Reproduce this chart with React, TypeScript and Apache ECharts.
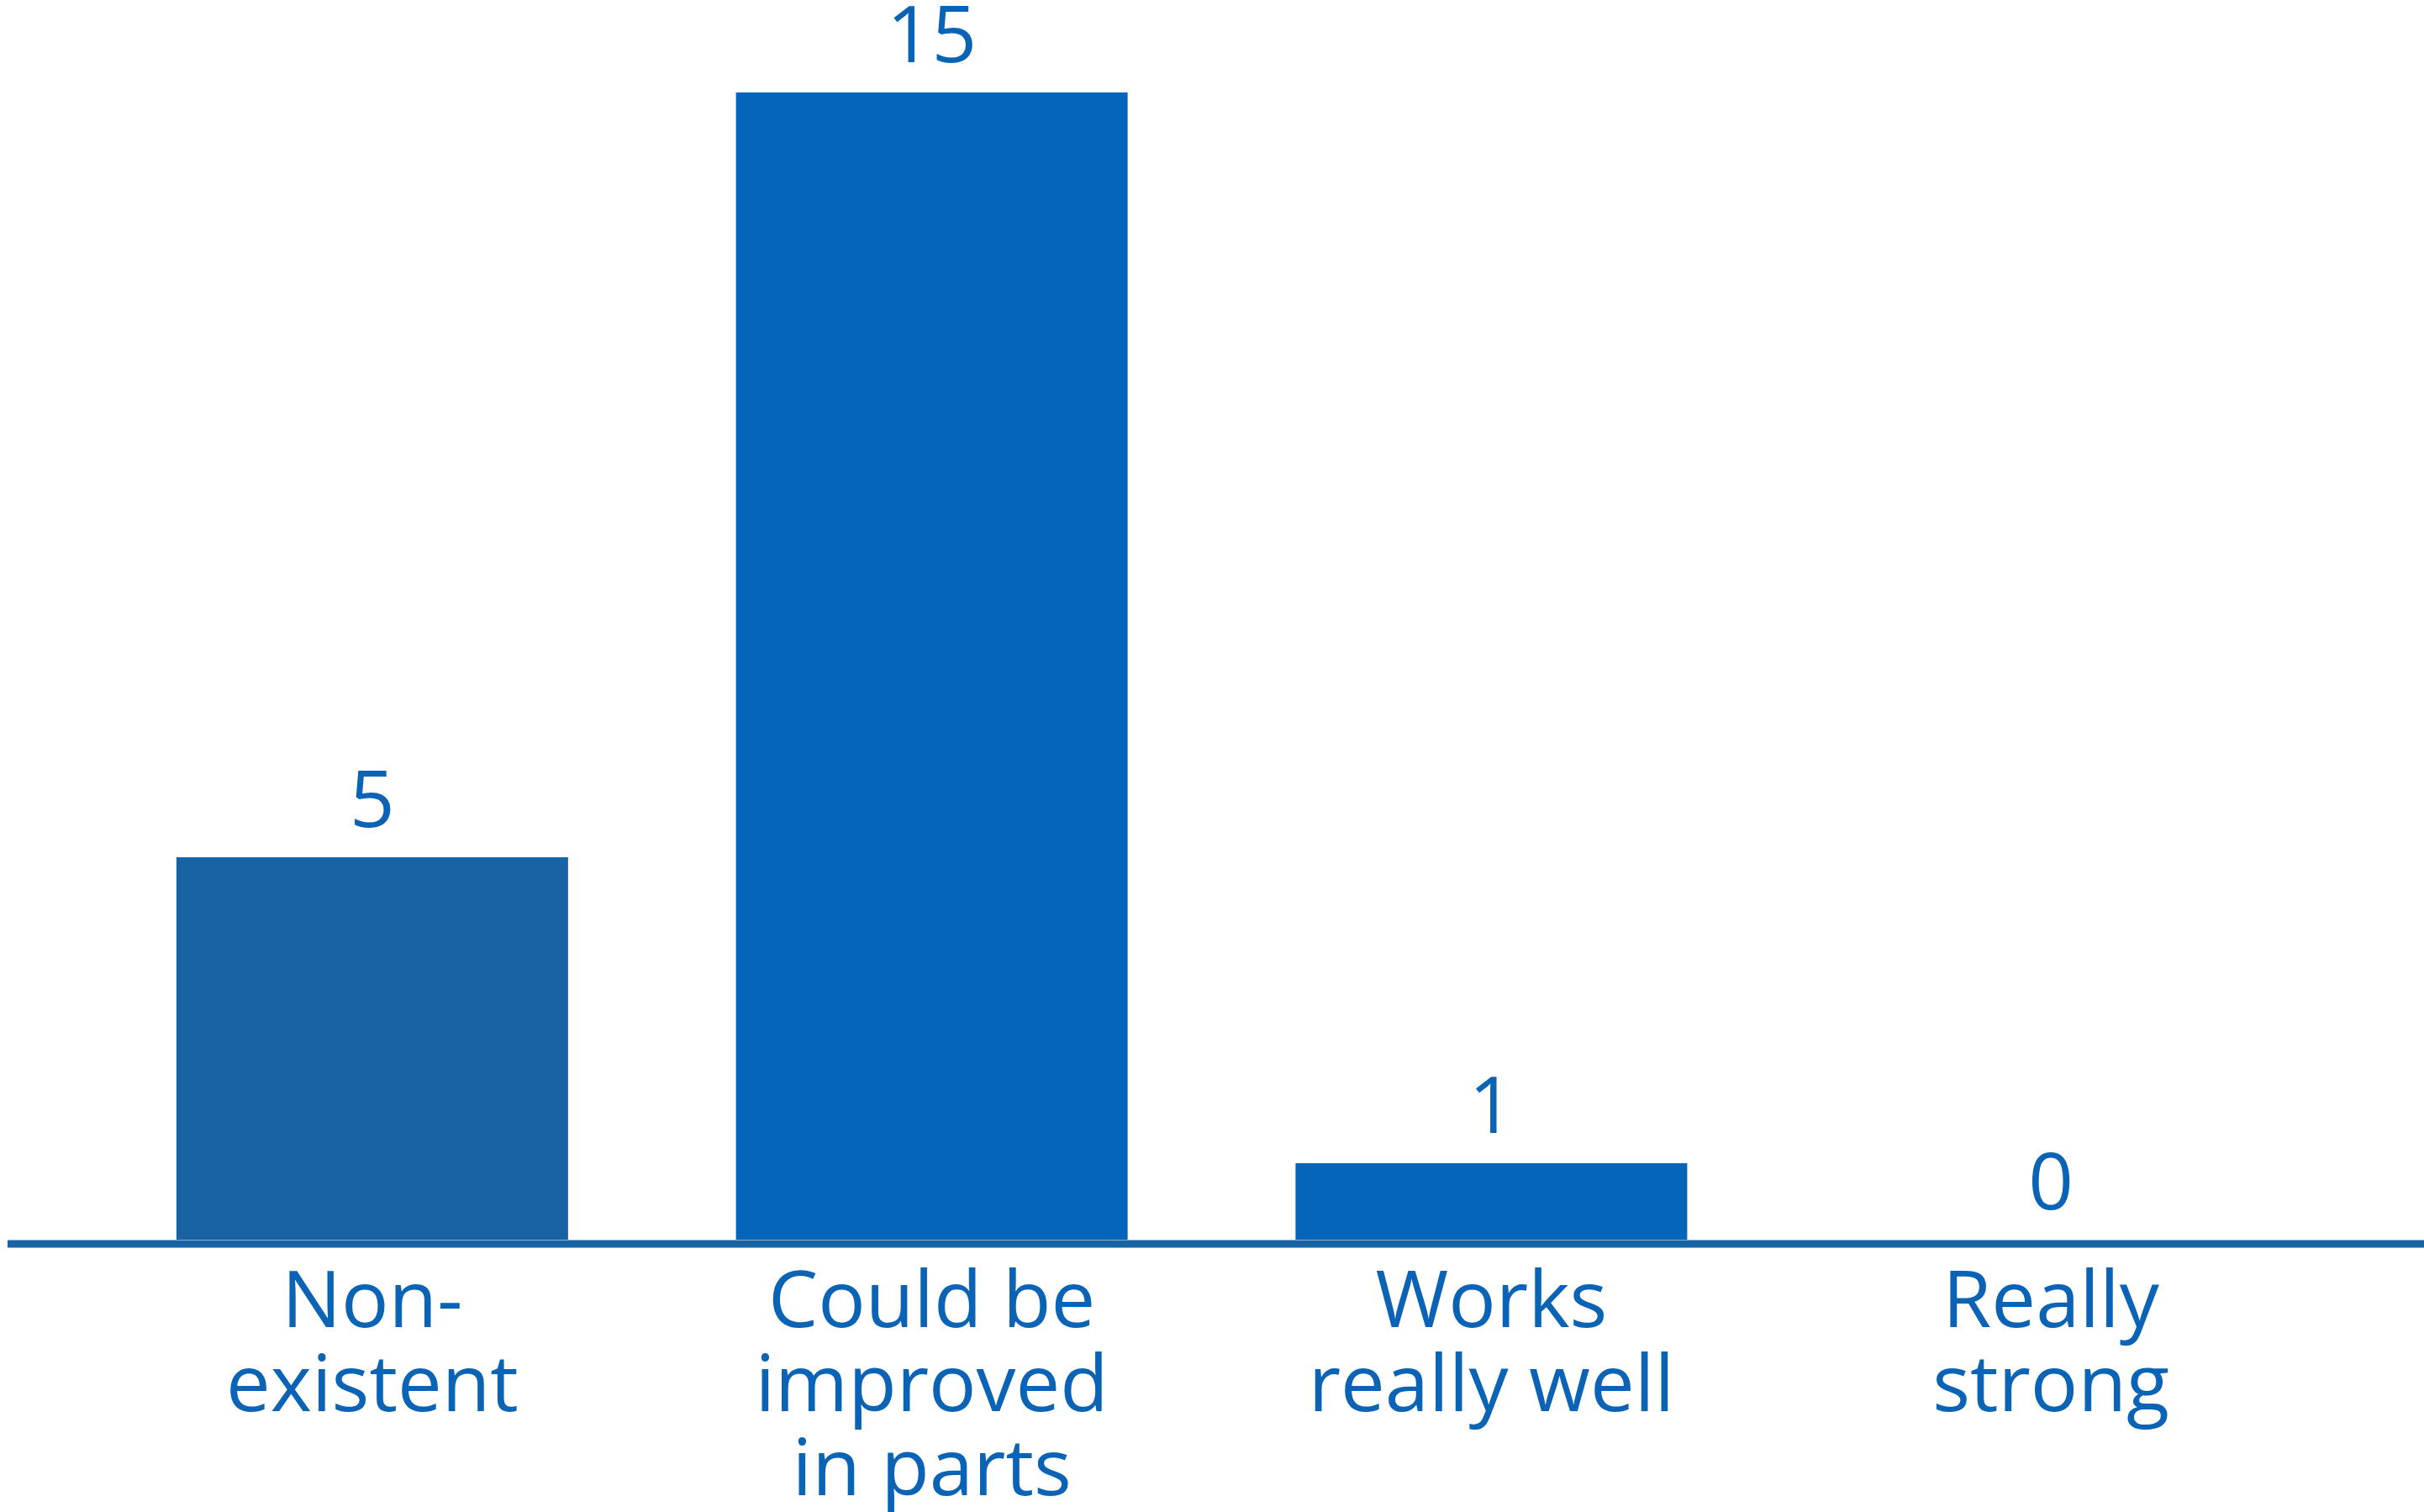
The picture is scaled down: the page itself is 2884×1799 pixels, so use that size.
import React, { useEffect, useRef } from "react";
import * as echarts from "echarts";

const categories = ["Non-\nexistent", "Could be\nimproved\nin parts", "Works\nreally well", "Really\nstrong"];
const values = [5, 15, 1, 0];
const barColors = ["#1763A4", "#0565BA", "#0565BA", "#0565BA"];

const W = 2884;
const H = 1799;
const TEXT = "#0B63B5";
const FONT = "'Open Sans', 'Noto Sans', sans-serif";

export default function App() {
  const ref = useRef<HTMLDivElement>(null);
  useEffect(() => {
    document.body.style.margin = "0";
    const chart = echarts.init(ref.current!, null, { renderer: "svg" });
    const gridBottom = 324;
    const axisY = H - gridBottom + 5;
    chart.setOption({
      animation: false,
      backgroundColor: "#ffffff",
      grid: { left: 110, right: 111, top: 110, bottom: gridBottom },
      xAxis: {
        type: "category",
        data: categories,
        axisLine: { show: false },
        axisTick: { show: false },
        axisLabel: {
          color: TEXT,
          fontSize: 94,
          lineHeight: 100,
          fontFamily: FONT,
          margin: 18,
          interval: 0,
        },
      },
      yAxis: {
        type: "value",
        min: 0,
        max: 15,
        show: false,
        splitLine: { show: false },
      },
      series: [
        {
          type: "bar",
          barWidth: 466,
          data: values.map((v, i) => ({ value: v, itemStyle: { color: barColors[i] } })),
          label: {
            show: true,
            position: "top",
            distance: 22,
            color: TEXT,
            fontSize: 94,
            lineHeight: 100,
            fontFamily: FONT,
          },
        },
      ],
      graphic: [
        {
          type: "line",
          shape: { x1: 9, y1: axisY, x2: W, y2: axisY },
          style: { stroke: "#1763A4", lineWidth: 9 },
          z: 10,
        },
      ],
    });
    return () => chart.dispose();
  }, []);
  return <div ref={ref} style={{ position: "absolute", left: 0, top: 0, width: W, height: H }} />;
}
